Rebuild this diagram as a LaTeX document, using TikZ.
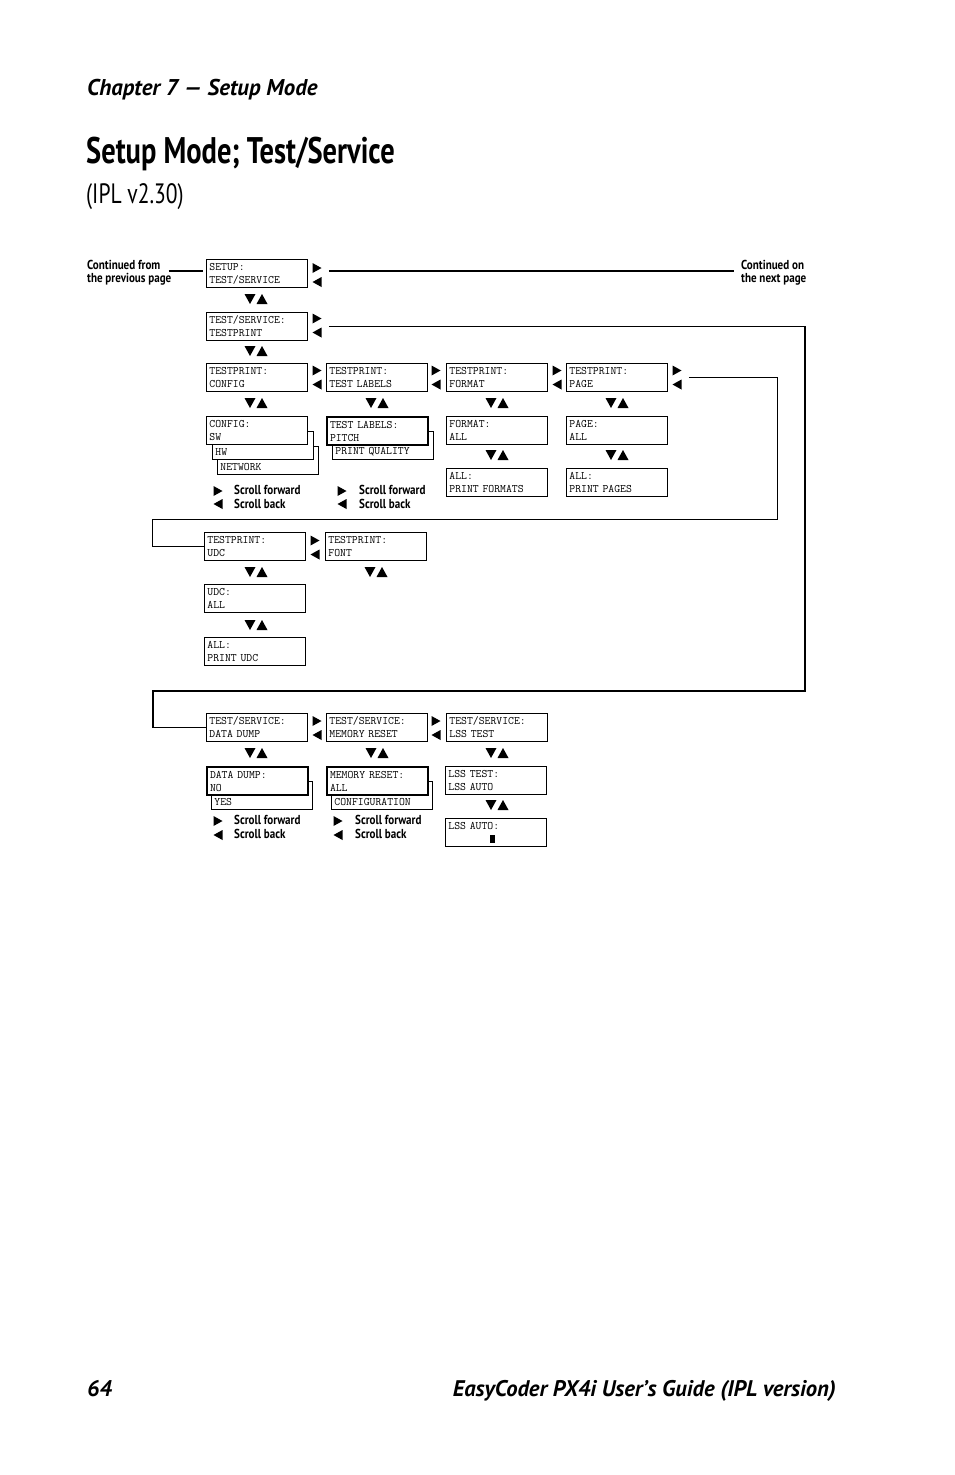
\documentclass[tikz,border=0pt]{standalone}
\usepackage{fontspec}
\setmainfont{PT Sans}
\newfontfamily\condfont[FakeStretch=0.77]{PT Sans}
\newfontfamily\semifont[FakeStretch=0.85]{PT Sans}
\usetikzlibrary{positioning, calc}

\tikzset{
  lcd/.style={draw, line width=0.9pt, fill=white, anchor=north west, text width=95pt,
    minimum height=28pt, inner xsep=3pt, inner ysep=0pt, align=left,
    font=\ttfamily\fontsize{11.4}{13}\selectfont},
  lcdthick/.style={lcd, line width=2pt},
  conn/.style={line width=1.3pt},
  legend/.style={anchor=west, inner sep=0pt, font=\semifont\bfseries\fontsize{13}{13}\selectfont},
  pics/fb/.style={code={
    \fill (-4.5,-12) -- (4.5,-7) -- (-4.5,-2) -- cycle;
    \fill (4.5,2) -- (-4.5,7) -- (4.5,12) -- cycle;}},
  pics/ud/.style={code={
    \fill (-11.5,-5) -- (-0.5,-5) -- (-6,5) -- cycle;
    \fill (0.5,5) -- (11.5,5) -- (6,-5) -- cycle;}},
  pics/fwd/.style={code={\fill (-4.5,-5) -- (4.5,0) -- (-4.5,5) -- cycle;}},
  pics/bck/.style={code={\fill (4.5,-5) -- (-4.5,0) -- (4.5,5) -- cycle;}}
}

\begin{document}
\begin{tikzpicture}[x=1pt, y=-1pt]
\useasboundingbox (0,0) rectangle (954,1475);

% page heading
\node[anchor=base west, inner sep=0pt, font=\bfseries\itshape\fontsize{22.8}{24}\selectfont] (chap) at (87,95) {Chapter 7 — Setup Mode};
\node[anchor=base west, inner sep=0pt, font=\condfont\bfseries\fontsize{37}{40}\selectfont] (title) at (86,163) {Setup Mode; Test/Service};
\node[anchor=base west, inner sep=0pt, font=\condfont\fontsize{28}{30}\selectfont] (ipl) at (86,203) {(IPL v2.30)};

\node[anchor=north west, align=left, inner sep=0pt, font=\semifont\bfseries\fontsize{13}{13}\selectfont] (cfrom) at (87,260) {Continued from\\the previous page};
\node[anchor=north west, align=left, inner sep=0pt, font=\semifont\bfseries\fontsize{13}{13}\selectfont] (cnext) at (741,260) {Continued on\\the next page};

% top rows
\node[lcd] (setup) at (206,259) {SETUP:\\TEST/SERVICE};
\node[lcd] (tsprint) at (206,312) {TEST/SERVICE:\\TESTPRINT};

\node[lcd] (tpconfig) at (206,363) {TESTPRINT:\\CONFIG};
\node[lcd] (tplabels) at (326,363) {TESTPRINT:\\TEST LABELS};
\node[lcd] (tpformat) at (446,363) {TESTPRINT:\\FORMAT};
\node[lcd] (tppage) at (566,363) {TESTPRINT:\\PAGE};

\node[lcd] (network) at (217,446) {\vphantom{X}\\NETWORK};
\node[lcd] (hw) at (212,431) {\vphantom{X}\\HW};
\node[lcd] (cfgsw) at (206,416) {CONFIG:\\SW};
\node[lcd] (pquality) at (332,431) {\vphantom{X}\\PRINT QUALITY};
\node[lcdthick] (lblpitch) at (326,416) {TEST LABELS:\\PITCH};
\node[lcd] (fmtall) at (446,416) {FORMAT:\\ALL};
\node[lcd] (pageall) at (566,416) {PAGE:\\ALL};
\node[lcd] (prfmt) at (446,468) {ALL:\\PRINT FORMATS};
\node[lcd] (prpage) at (566,468) {ALL:\\PRINT PAGES};

% udc / font
\node[lcd] (tpudc) at (204,532) {TESTPRINT:\\UDC};
\node[lcd] (tpfont) at (325,532) {TESTPRINT:\\FONT};
\node[lcd] (udcall) at (204,584) {UDC:\\ALL};
\node[lcd] (prudc) at (204,637) {ALL:\\PRINT UDC};

% service rows
\node[lcd] (dd) at (206,713) {TEST/SERVICE:\\DATA DUMP};
\node[lcd] (memreset) at (326,713) {TEST/SERVICE:\\MEMORY RESET};
\node[lcd] (lsstest) at (446,713) {TEST/SERVICE:\\LSS TEST};
\node[lcd] (yes) at (211,781) {\vphantom{X}\\YES};
\node[lcdthick] (ddno) at (206,766) {DATA DUMP:\\NO};
\node[lcd] (cfgall) at (331,781) {\vphantom{X}\\CONFIGURATION};
\node[lcdthick] (memall) at (326,766) {MEMORY RESET:\\ALL};
\node[lcd] (lssauto) at (445,766) {LSS TEST:\\LSS AUTO};
\node[lcd] (lssbox) at (445,818) {LSS AUTO:\\\hspace*{42pt}\rule{5pt}{8pt}};

% scroll arrows
\foreach \x/\y in {317/275, 317/325.5, 317/377.5, 436/377.5, 557/377.5, 677/377.5,
                   315/547.5, 317/728, 436/728}
  \pic at (\x,\y) {fb};
\foreach \x/\y in {256/299, 256/351, 256/403, 377/403, 497/403, 617/403, 497/455, 617/455,
                   256/572, 376/572, 256/625, 256/753, 377/753, 497/753, 497/805}
  \pic at (\x,\y) {ud};

% legends
\foreach \x/\y in {218/491, 342/491, 218/821, 338/821} \pic at (\x,\y) {fwd};
\foreach \x/\y in {218/504, 342/504, 218/835, 338/835} \pic at (\x,\y) {bck};
\node[legend] (sf1) at (234,490) {Scroll forward};
\node[legend] (sb1) at (234,504) {Scroll back};
\node[legend] (sf2) at (359,490) {Scroll forward};
\node[legend] (sb2) at (359,504) {Scroll back};
\node[legend] (sf3) at (234,820) {Scroll forward};
\node[legend] (sb3) at (234,834) {Scroll back};
\node[legend] (sf4) at (355,820) {Scroll forward};
\node[legend] (sb4) at (355,834) {Scroll back};

% connectors
\coordinate (nextend) at (734,271);
\coordinate (loopA) at (805,691);
\coordinate (loopB) at (153,691);
\coordinate (loopC) at (777,519);
\coordinate (loopD) at (152,519);

\draw[conn] (cfrom.east |- nextend) ++(-3,0) -- ([xshift=-3pt]setup.west |- nextend);
\draw[conn] ([xshift=21pt]setup.east |- nextend) -- (nextend);
\draw[conn] ([xshift=21pt]tsprint.east) -| (loopA) -- (loopB) |- (dd.west);
\draw[line width=1pt] ([xshift=21pt]tppage.east) -| (loopC) -- (loopD) |- (tpudc.west);

% page footer
\node[anchor=base west, inner sep=0pt, font=\bfseries\itshape\fontsize{22.6}{24}\selectfont] (pagenum) at (87,1396) {64};
\node[anchor=base east, inner sep=0pt, font=\bfseries\itshape\fontsize{22.6}{24}\selectfont] (guide) at (836,1396) {EasyCoder PX4i User’s Guide (IPL version)};
\end{tikzpicture}
\end{document}
